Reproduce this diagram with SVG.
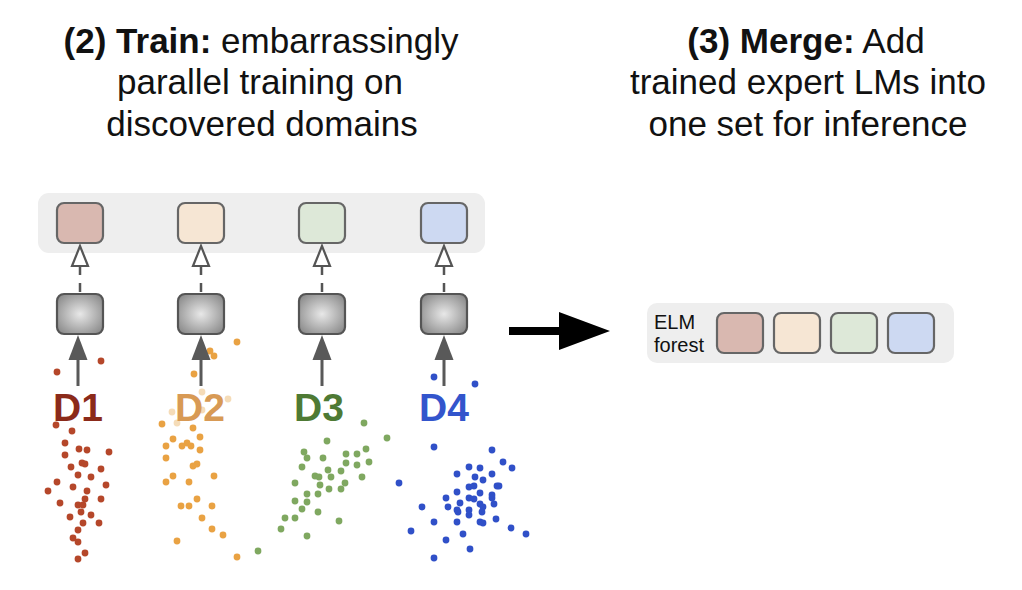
<svg xmlns="http://www.w3.org/2000/svg" width="1022" height="590" viewBox="0 0 1022 590">
<style>
.title{font-family:"Liberation Sans",Arial,sans-serif;font-size:35px;fill:#111;text-anchor:middle}
.b{font-weight:bold}
.panel{fill:#eeeeee}
.exp{stroke:#666;stroke-width:2.2}
.lm{fill:url(#g);stroke:#555;stroke-width:2.2}
.dash{stroke:#555;stroke-width:2.5;stroke-dasharray:9 8;fill:none}
.open{fill:#fff;stroke:#555;stroke-width:2.2;stroke-linejoin:miter}
.shaft{stroke:#595959;stroke-width:3;fill:none}
.solid{fill:#595959}
.dl{font-family:"Liberation Sans",Arial,sans-serif;font-size:39px;font-weight:bold;text-anchor:middle}
.c1 circle,.c2 circle,.c2f circle,.c3 circle,.c4 circle{r:3.4px}
.c1{fill:#b5472a}.c2{fill:#e9a243}.c2f{fill:#f5dcb8}.c3{fill:#7fa860}.c4{fill:#3050c8}
.elm{font-family:"Liberation Sans",Arial,sans-serif;font-size:20px;fill:#111}
</style>
<defs>
<radialGradient id="g" cx="50%" cy="50%" r="60%">
<stop offset="0" stop-color="#e8e8e8"/>
<stop offset="1" stop-color="#8e8e8e"/>
</radialGradient>
</defs>
<rect width="1022" height="590" fill="#fff"/>
<g id="title-train">
<text class="title" x="261" y="53"><tspan class="b">(2) Train:</tspan> embarrassingly</text>
<text class="title" x="260" y="94">parallel training on</text>
<text class="title" x="262" y="136">discovered domains</text>
</g>
<g id="title-merge">
<text class="title" x="806" y="53"><tspan class="b">(3) Merge:</tspan> Add</text>
<text class="title" x="808" y="94">trained expert LMs into</text>
<text class="title" x="808" y="136">one set for inference</text>
</g>
<g id="dots">
<g class="c2f">
<circle cx="202" cy="392" r="3.4"/><circle cx="228" cy="399" r="3.4"/><circle cx="172" cy="412" r="3.4"/><circle cx="202" cy="410" r="3.4"/><circle cx="177" cy="423" r="3.4"/>
</g>
<g class="c1">
<circle cx="101" cy="361" r="3.4"/><circle cx="57" cy="372" r="3.4"/><circle cx="56" cy="425" r="3.4"/><circle cx="72" cy="431" r="3.4"/><circle cx="65" cy="443" r="3.4"/><circle cx="79" cy="449" r="3.4"/><circle cx="87" cy="450" r="3.4"/><circle cx="109" cy="452" r="3.4"/><circle cx="65" cy="455" r="3.4"/><circle cx="71" cy="467" r="3.4"/><circle cx="82" cy="463" r="3.4"/><circle cx="85" cy="464" r="3.4"/><circle cx="101" cy="469" r="3.4"/><circle cx="78" cy="475" r="3.4"/><circle cx="91" cy="477" r="3.4"/><circle cx="57" cy="482" r="3.4"/><circle cx="106" cy="485" r="3.4"/><circle cx="73" cy="487" r="3.4"/><circle cx="48" cy="491" r="3.4"/><circle cx="87" cy="491" r="3.4"/><circle cx="85" cy="499" r="3.4"/><circle cx="60" cy="503" r="3.4"/><circle cx="101" cy="499" r="3.4"/><circle cx="78" cy="505" r="3.4"/><circle cx="83" cy="505" r="3.4"/><circle cx="81" cy="512" r="3.4"/><circle cx="70" cy="517" r="3.4"/><circle cx="91" cy="515" r="3.4"/><circle cx="83" cy="523" r="3.4"/><circle cx="99" cy="523" r="3.4"/><circle cx="78" cy="530" r="3.4"/><circle cx="73" cy="538" r="3.4"/><circle cx="78" cy="542" r="3.4"/><circle cx="85" cy="553" r="3.4"/><circle cx="78" cy="559" r="3.4"/>
</g>
<g class="c2">
<circle cx="237" cy="342" r="3.4"/><circle cx="210" cy="351" r="3.4"/><circle cx="214" cy="356" r="3.4"/><circle cx="194" cy="374" r="3.4"/><circle cx="162" cy="424" r="3.4"/><circle cx="193" cy="428" r="3.4"/><circle cx="200" cy="437" r="3.4"/><circle cx="173" cy="439" r="3.4"/><circle cx="187" cy="443" r="3.4"/><circle cx="182" cy="446" r="3.4"/><circle cx="191" cy="446" r="3.4"/><circle cx="166" cy="446" r="3.4"/><circle cx="200" cy="450" r="3.4"/><circle cx="166" cy="458" r="3.4"/><circle cx="197" cy="464" r="3.4"/><circle cx="193" cy="466" r="3.4"/><circle cx="173" cy="476" r="3.4"/><circle cx="214" cy="476" r="3.4"/><circle cx="166" cy="482" r="3.4"/><circle cx="189" cy="482" r="3.4"/><circle cx="197" cy="499" r="3.4"/><circle cx="181" cy="506" r="3.4"/><circle cx="189" cy="506" r="3.4"/><circle cx="212" cy="506" r="3.4"/><circle cx="202" cy="518" r="3.4"/><circle cx="212" cy="529" r="3.4"/><circle cx="223" cy="535" r="3.4"/><circle cx="177" cy="541" r="3.4"/><circle cx="237" cy="557" r="3.4"/>
</g>
<g class="c3">
<circle cx="364" cy="423" r="3.4"/><circle cx="387" cy="438" r="3.4"/><circle cx="327" cy="441" r="3.4"/><circle cx="304" cy="452" r="3.4"/><circle cx="366" cy="449" r="3.4"/><circle cx="307" cy="458" r="3.4"/><circle cx="323" cy="458" r="3.4"/><circle cx="346" cy="454" r="3.4"/><circle cx="357" cy="454" r="3.4"/><circle cx="346" cy="463" r="3.4"/><circle cx="357" cy="465" r="3.4"/><circle cx="369" cy="462" r="3.4"/><circle cx="302" cy="467" r="3.4"/><circle cx="328" cy="470" r="3.4"/><circle cx="341" cy="471" r="3.4"/><circle cx="315" cy="476" r="3.4"/><circle cx="319" cy="477" r="3.4"/><circle cx="331" cy="477" r="3.4"/><circle cx="362" cy="477" r="3.4"/><circle cx="295" cy="483" r="3.4"/><circle cx="345" cy="483" r="3.4"/><circle cx="320" cy="485" r="3.4"/><circle cx="329" cy="489" r="3.4"/><circle cx="341" cy="489" r="3.4"/><circle cx="307" cy="494" r="3.4"/><circle cx="318" cy="494" r="3.4"/><circle cx="295" cy="501" r="3.4"/><circle cx="307" cy="502" r="3.4"/><circle cx="302" cy="509" r="3.4"/><circle cx="318" cy="512" r="3.4"/><circle cx="285" cy="518" r="3.4"/><circle cx="295" cy="518" r="3.4"/><circle cx="339" cy="521" r="3.4"/><circle cx="281" cy="529" r="3.4"/><circle cx="307" cy="536" r="3.4"/><circle cx="258" cy="551" r="3.4"/>
</g>
<g class="c4">
<circle cx="434" cy="377" r="3.4"/><circle cx="475" cy="384" r="3.4"/><circle cx="434" cy="447" r="3.4"/><circle cx="492" cy="450" r="3.4"/><circle cx="503" cy="462" r="3.4"/><circle cx="512" cy="468" r="3.4"/><circle cx="469" cy="467" r="3.4"/><circle cx="480" cy="468" r="3.4"/><circle cx="457" cy="474" r="3.4"/><circle cx="492" cy="474" r="3.4"/><circle cx="475" cy="477" r="3.4"/><circle cx="483" cy="480" r="3.4"/><circle cx="399" cy="483" r="3.4"/><circle cx="469" cy="487" r="3.4"/><circle cx="474" cy="486" r="3.4"/><circle cx="497" cy="486" r="3.4"/><circle cx="499" cy="486" r="3.4"/><circle cx="457" cy="492" r="3.4"/><circle cx="480" cy="493" r="3.4"/><circle cx="492" cy="495" r="3.4"/><circle cx="446" cy="498" r="3.4"/><circle cx="469" cy="498" r="3.4"/><circle cx="474" cy="499" r="3.4"/><circle cx="492" cy="498" r="3.4"/><circle cx="460" cy="503" r="3.4"/><circle cx="494" cy="504" r="3.4"/><circle cx="422" cy="507" r="3.4"/><circle cx="448" cy="507" r="3.4"/><circle cx="480" cy="504" r="3.4"/><circle cx="483" cy="507" r="3.4"/><circle cx="457" cy="510" r="3.4"/><circle cx="469" cy="510" r="3.4"/><circle cx="458" cy="512" r="3.4"/><circle cx="482" cy="512" r="3.4"/><circle cx="469" cy="515" r="3.4"/><circle cx="434" cy="522" r="3.4"/><circle cx="457" cy="522" r="3.4"/><circle cx="480" cy="522" r="3.4"/><circle cx="483" cy="523" r="3.4"/><circle cx="496" cy="519" r="3.4"/><circle cx="411" cy="531" r="3.4"/><circle cx="511" cy="528" r="3.4"/><circle cx="526" cy="534" r="3.4"/><circle cx="463" cy="534" r="3.4"/><circle cx="446" cy="540" r="3.4"/><circle cx="470" cy="549" r="3.4"/><circle cx="434" cy="558" r="3.4"/>
</g>
</g>
<g id="experts-panel">
<rect class="panel" x="38" y="193" width="447" height="60" rx="11"/>
</g>
<g id="connectors">
<path class="dash" d="M80 266V295M201 266V295M322 266V295M444 266V295"/>
<path class="open" d="M80 246L72 266H88Z"/>
<path class="open" d="M201 246L193 266H209Z"/>
<path class="open" d="M322 246L314 266H330Z"/>
<path class="open" d="M444 246L436 266H452Z"/>
<path class="shaft" d="M78 358V386M201 358V386M322 358V386M444 358V386"/>
<path class="solid" d="M78 335L68.5 360H87.5Z"/>
<path class="solid" d="M201 335L191.5 360H210.5Z"/>
<path class="solid" d="M322 335L312.5 360H331.5Z"/>
<path class="solid" d="M444 335L434.5 360H453.5Z"/>
<path d="M509 327H559V312L610 331L559 350V335H509Z" fill="#000"/>
</g>
<g id="expert-1"><rect class="exp" x="57" y="203" width="46" height="40" rx="7" fill="#d9b8b0"/></g>
<g id="expert-2"><rect class="exp" x="178" y="203" width="46" height="40" rx="7" fill="#f6e6d4"/></g>
<g id="expert-3"><rect class="exp" x="299" y="203" width="46" height="40" rx="7" fill="#dde8d8"/></g>
<g id="expert-4"><rect class="exp" x="421" y="203" width="46" height="40" rx="7" fill="#cdd9f2"/></g>
<g id="lm-1"><rect class="lm" x="57" y="294" width="46" height="40" rx="7"/></g>
<g id="lm-2"><rect class="lm" x="178" y="294" width="46" height="40" rx="7"/></g>
<g id="lm-3"><rect class="lm" x="299" y="294" width="46" height="40" rx="7"/></g>
<g id="lm-4"><rect class="lm" x="421" y="294" width="46" height="40" rx="7"/></g>
<g id="label-d1"><text class="dl" x="78" y="421" fill="#8b2a1a">D1</text></g>
<g id="label-d2"><text class="dl" x="200" y="421" fill="#d89a55">D2</text></g>
<g id="label-d3"><text class="dl" x="319" y="421" fill="#4e7a34">D3</text></g>
<g id="label-d4"><text class="dl" x="444" y="421" fill="#3355cc">D4</text></g>
<g id="elm-forest">
<rect class="panel" x="647" y="303" width="307" height="60" rx="10"/>
<text class="elm" x="654" y="329">ELM</text>
<text class="elm" x="654" y="352">forest</text>
<rect class="exp" x="717" y="313" width="46" height="40" rx="7" fill="#d9b8b0"/>
<rect class="exp" x="774" y="313" width="46" height="40" rx="7" fill="#f6e6d4"/>
<rect class="exp" x="831" y="313" width="46" height="40" rx="7" fill="#dde8d8"/>
<rect class="exp" x="888" y="313" width="46" height="40" rx="7" fill="#cdd9f2"/>
</g>
</svg>
